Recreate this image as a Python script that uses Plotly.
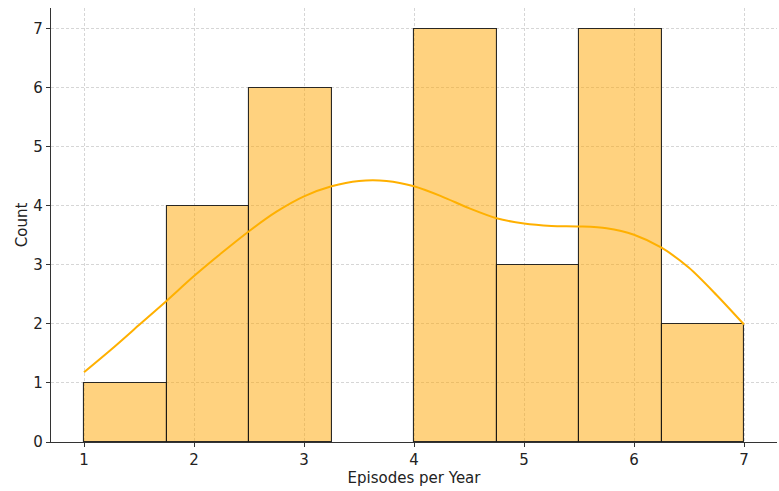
import plotly.graph_objects as go

# Histogram of episodes per year: bin edges and counts
bin_edges = [1.0, 1.75, 2.5, 3.25, 4.0, 4.75, 5.5, 6.25, 7.0]
counts = [1, 4, 6, 0, 7, 3, 7, 2]

# Kernel density estimate, scaled to counts
kde_x = [1.0, 1.25, 1.5, 1.75, 2.0, 2.25, 2.5, 2.75, 3.0, 3.25, 3.5, 3.75, 4.0,
         4.25, 4.5, 4.75, 5.0, 5.25, 5.5, 5.75, 6.0, 6.25, 6.5, 6.75, 7.0]
kde_y = [1.18, 1.57, 1.98, 2.39, 2.81, 3.20, 3.57, 3.90, 4.16, 4.33, 4.42, 4.42,
         4.33, 4.16, 3.96, 3.79, 3.70, 3.66, 3.65, 3.62, 3.51, 3.29, 2.95, 2.49, 1.99]

x_ticks = [1, 2, 3, 4, 5, 6, 7]
y_ticks = [0, 1, 2, 3, 4, 5, 6, 7]

# empty bins are left undrawn
bins = [(a, b, c) for a, b, c in zip(bin_edges[:-1], bin_edges[1:], counts) if c > 0]
centers = [(a + b) / 2 for a, b, _ in bins]
widths = [b - a for a, b, _ in bins]
heights = [c for _, _, c in bins]

fig = go.Figure()
fig.add_trace(go.Bar(
    x=centers, y=heights, width=widths,
    marker=dict(color="rgba(255,165,0,0.5)",
                line=dict(color="rgba(20,20,20,0.9)", width=1.1)),
    showlegend=False, hoverinfo="x+y",
))
fig.add_trace(go.Scatter(
    x=kde_x, y=kde_y, mode="lines",
    line=dict(color="#FFB000", width=2, shape="spline", smoothing=0.8),
    showlegend=False,
))

font = "DejaVu Sans, sans-serif"
grid = dict(showgrid=True, gridcolor="rgba(200,200,200,0.75)", griddash="3px,2px",
            gridwidth=0.8)
fig.update_layout(
    width=779, height=491,
    margin=dict(l=51, r=2, t=8, b=49),
    paper_bgcolor="white", plot_bgcolor="white",
    font=dict(family=font, size=15, color="#222"),
    bargap=0,
    xaxis=dict(range=[0.7, 7.3], tickvals=x_ticks, ticks="outside", ticklen=4,
               tickcolor="#333", showline=True, linecolor="#333", linewidth=1.2,
               zeroline=False,
               title=dict(text="Episodes per Year", font=dict(size=15), standoff=1),
               **grid),
    yaxis=dict(range=[0, 7.35], tickvals=y_ticks, ticks="outside", ticklen=4,
               tickcolor="#333", showline=True, linecolor="#333", linewidth=1.2,
               zeroline=False,
               title=dict(text="Count", font=dict(size=15), standoff=2),
               **grid),
)

fig.write_html("out.html")
